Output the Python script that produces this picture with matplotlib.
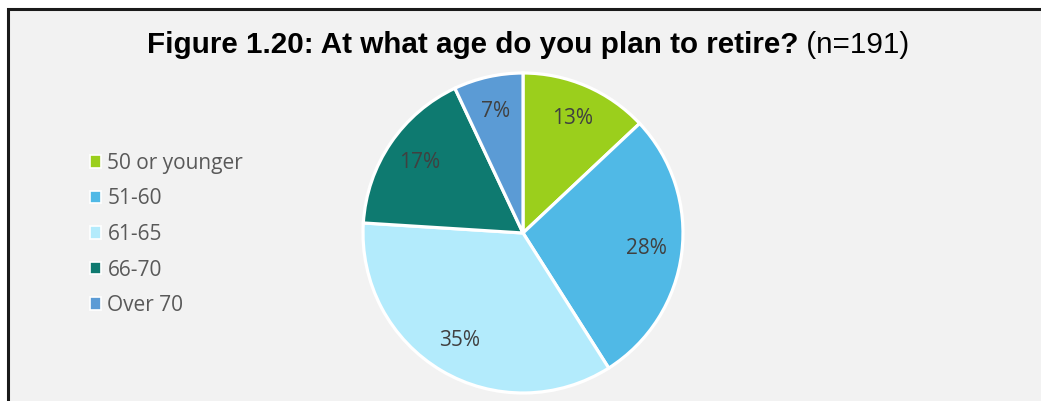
import matplotlib.pyplot as plt
from matplotlib.patches import Rectangle

categories = ['50 or younger', '51-60', '61-65', '66-70', 'Over 70']
shares = [13, 28, 35, 17, 7]
colors = ['#9BCF1C', '#50B9E6', '#B3EBFC', '#0E7A70', '#5B9BD5']

W, H = 1041, 401
fig = plt.figure(figsize=(W / 100, H / 100), dpi=100)
fig.patch.set_facecolor('white')

# grey panel with dark frame on top and left
frame = Rectangle((8 / W, -0.05), 1.1, (H - 9) / H + 0.05, transform=fig.transFigure,
                  facecolor='#F2F2F2', edgecolor='#1a1a1a', linewidth=2.2, zorder=-5)
fig.patches.append(frame)

# title: bold question, regular sample size
ty = 1 - 45 / H
t1 = fig.text(0.5, ty, 'Figure 1.20: At what age do you plan to retire?',
              fontsize=21.3, fontweight='bold', family='Liberation Sans',
              ha='left', va='center', color='black')
t2 = fig.text(0, ty, ' (n=191)', fontsize=21.3, family='Liberation Sans',
              ha='left', va='center', color='black')
fig.canvas.draw()
r = fig.canvas.get_renderer()
w1 = t1.get_window_extent(r).width
x0 = 147
t1.set_x(x0 / W)
t2.set_x((x0 + w1) / W)

# pie
cx, cy, rad = 523, 233, 160
ax = fig.add_axes([(cx - rad) / W, (H - cy - rad) / H, 2 * rad / W, 2 * rad / H])
ax.set_zorder(2)
wedges, texts, autotexts = ax.pie(
    shares, colors=colors, startangle=90, counterclock=False,
    autopct=lambda p: f'{p:.0f}%', pctdistance=0.78,
    wedgeprops=dict(edgecolor='white', linewidth=2.3),
    textprops=dict(color='#404040', fontsize=15, family='Open Sans'))
ax.set_xlim(-1.0, 1.0)
ax.set_ylim(-1.0, 1.0)
ax.set_aspect('equal')
ax.axis('off')

# legend
leg = fig.legend(wedges, categories, loc='upper left', bbox_to_anchor=(71 / W, 1 - 134 / H),
                 frameon=False, prop=dict(family='Open Sans', size=15),
                 labelcolor='#595959', handlelength=0.55, handleheight=0.55,
                 handletextpad=0.3, labelspacing=0.7)
leg.set_zorder(3)
for h in leg.legend_handles:
    h.set_edgecolor('white')
    h.set_linewidth(1.2)

fig.savefig('out.png', dpi=100)
